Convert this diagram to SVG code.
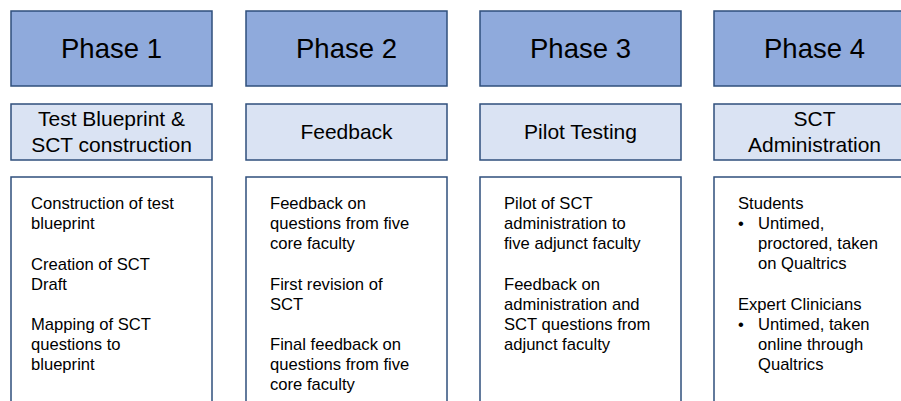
<svg xmlns="http://www.w3.org/2000/svg" width="901" height="401" viewBox="0 0 901 401">
<style>
text{font-family:"Liberation Sans",Arial,sans-serif;fill:#000}
.h{fill:#8faadc;stroke:#2f4f7c;stroke-width:1.5}
.s{fill:#dae3f3;stroke:#2f4f7c;stroke-width:1.5}
.b{fill:#fff;stroke:#2f4f7c;stroke-width:1.5}
.ht{font-size:27.5px;text-anchor:middle}
.st{font-size:21px;text-anchor:middle}
.bt{font-size:16.6px}
</style>
<rect width="901" height="401" fill="#fff"/>
<g id="col1">
<rect class="h" x="11" y="11" width="201" height="75"/>
<text class="ht" x="111.5" y="58">Phase 1</text>
<rect class="s" x="11" y="104" width="201" height="56"/>
<text class="st" x="111.5" y="126">Test Blueprint &amp;</text>
<text class="st" x="111.5" y="152">SCT construction</text>
<rect class="b" x="11" y="177" width="201" height="240"/>
<text class="bt" x="31" y="209">Construction of test</text>
<text class="bt" x="31" y="229">blueprint</text>
<text class="bt" x="31" y="270">Creation of SCT</text>
<text class="bt" x="31" y="290">Draft</text>
<text class="bt" x="31" y="330">Mapping of SCT</text>
<text class="bt" x="31" y="350">questions to</text>
<text class="bt" x="31" y="370">blueprint</text>
</g>
<g id="col2">
<rect class="h" x="246" y="11" width="201" height="75"/>
<text class="ht" x="346.5" y="58">Phase 2</text>
<rect class="s" x="246" y="104" width="201" height="56"/>
<text class="st" x="346.5" y="139">Feedback</text>
<rect class="b" x="246" y="177" width="201" height="240"/>
<text class="bt" x="270" y="209">Feedback on</text>
<text class="bt" x="270" y="229">questions from five</text>
<text class="bt" x="270" y="249">core faculty</text>
<text class="bt" x="270" y="290">First revision of</text>
<text class="bt" x="270" y="310">SCT</text>
<text class="bt" x="270" y="350">Final feedback on</text>
<text class="bt" x="270" y="370">questions from five</text>
<text class="bt" x="270" y="390">core faculty</text>
</g>
<g id="col3">
<rect class="h" x="480" y="11" width="201" height="75"/>
<text class="ht" x="580.5" y="58">Phase 3</text>
<rect class="s" x="480" y="104" width="201" height="56"/>
<text class="st" x="580.5" y="139">Pilot Testing</text>
<rect class="b" x="480" y="177" width="201" height="240"/>
<text class="bt" x="504" y="209">Pilot of SCT</text>
<text class="bt" x="504" y="229">administration to</text>
<text class="bt" x="504" y="249">five adjunct faculty</text>
<text class="bt" x="504" y="290">Feedback on</text>
<text class="bt" x="504" y="310">administration and</text>
<text class="bt" x="504" y="330">SCT questions from</text>
<text class="bt" x="504" y="350">adjunct faculty</text>
</g>
<g id="col4">
<rect class="h" x="714" y="11" width="201" height="75"/>
<text class="ht" x="814.5" y="58">Phase 4</text>
<rect class="s" x="714" y="104" width="201" height="56"/>
<text class="st" x="814.5" y="126">SCT</text>
<text class="st" x="814.5" y="152">Administration</text>
<rect class="b" x="714" y="177" width="201" height="240"/>
<text class="bt" x="738" y="209">Students</text>
<text class="bt" x="738" y="229">•</text>
<text class="bt" x="758" y="229">Untimed,</text>
<text class="bt" x="758" y="249">proctored, taken</text>
<text class="bt" x="758" y="269">on Qualtrics</text>
<text class="bt" x="738" y="310">Expert Clinicians</text>
<text class="bt" x="738" y="330">•</text>
<text class="bt" x="758" y="330">Untimed, taken</text>
<text class="bt" x="758" y="350">online through</text>
<text class="bt" x="758" y="370">Qualtrics</text>
</g>
<g id="connectors"></g>
</svg>
